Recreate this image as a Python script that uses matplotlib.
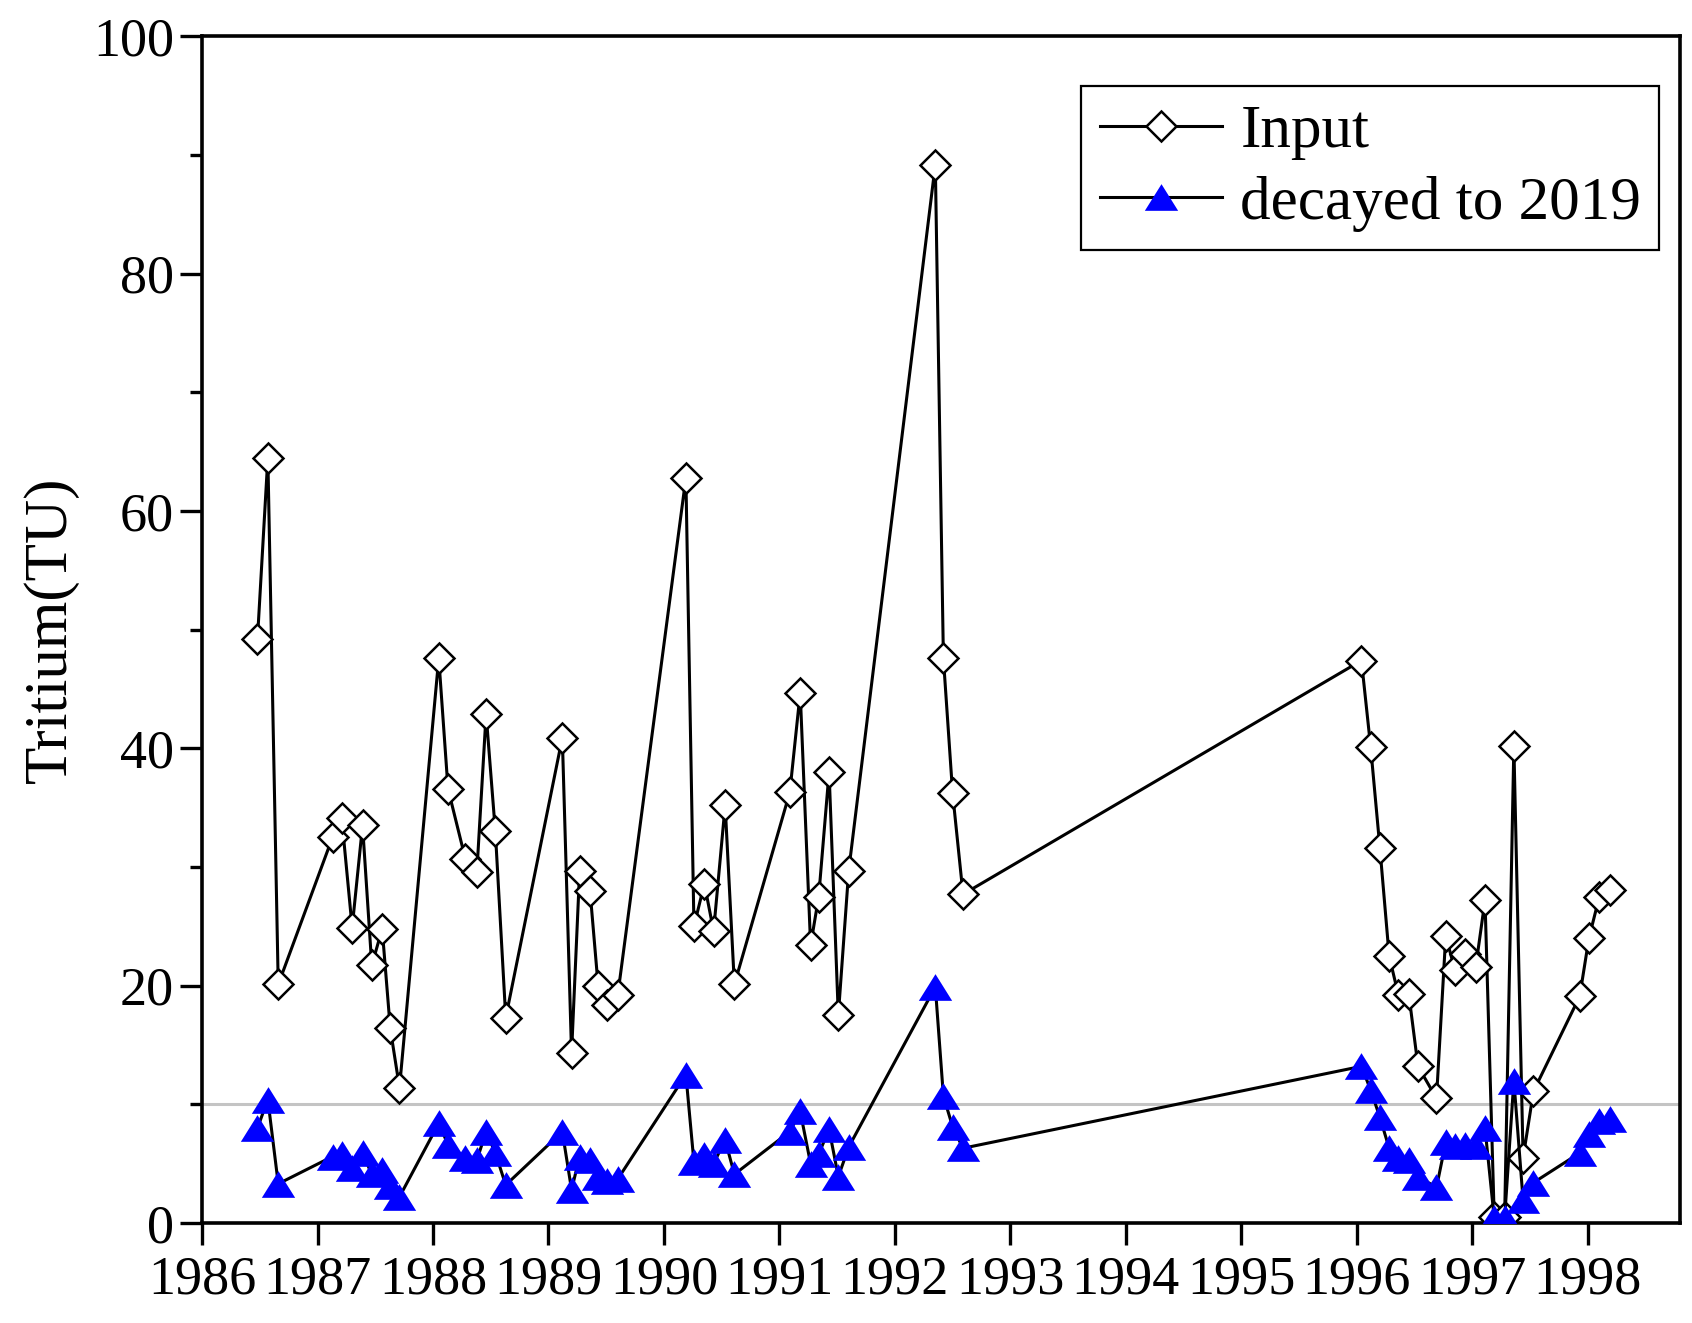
import matplotlib
matplotlib.use("Agg")
import matplotlib.pyplot as plt
from matplotlib.ticker import MultipleLocator

plt.rcParams['font.family'] = ['Liberation Serif', 'DejaVu Serif']

# sample dates (decimal years)
years = [1986.48, 1986.57, 1986.66,
         1987.13, 1987.21, 1987.30, 1987.39, 1987.47, 1987.56, 1987.63, 1987.71,
         1988.05, 1988.13, 1988.28, 1988.38, 1988.46, 1988.54, 1988.63,
         1989.12, 1989.20, 1989.27, 1989.36, 1989.43, 1989.51, 1989.60,
         1990.19, 1990.26, 1990.35, 1990.43, 1990.53, 1990.61,
         1991.09, 1991.18, 1991.27, 1991.34, 1991.43, 1991.51, 1991.60,
         1992.35, 1992.42, 1992.50, 1992.59,
         1996.04, 1996.12, 1996.20, 1996.28, 1996.36, 1996.45, 1996.53, 1996.69,
         1996.77, 1996.85, 1996.94, 1997.03, 1997.11, 1997.19, 1997.28, 1997.36,
         1997.44, 1997.53,
         1997.93, 1998.01, 1998.10, 1998.19]

input_tu = [49.2, 64.5, 20.1,
            32.5, 34.1, 24.9, 33.5, 21.7, 24.8, 16.4, 11.4,
            47.6, 36.6, 30.7, 29.6, 42.9, 33.0, 17.3,
            40.9, 14.3, 29.7, 28.0, 20.0, 18.4, 19.2,
            62.8, 25.0, 28.6, 24.6, 35.2, 20.1,
            36.3, 44.7, 23.4, 27.5, 38.0, 17.5, 29.7,
            89.2, 47.6, 36.2, 27.7,
            47.4, 40.1, 31.6, 22.5, 19.2, 19.3, 13.2, 10.5,
            24.2, 21.3, 22.7, 21.6, 27.2, 0.5, 0.5, 40.2,
            5.5, 11.1,
            19.1, 24.0, 27.5, 28.1]

decayed_tu = [8.0, 10.4, 3.3,
              5.6, 5.8, 4.6, 5.9, 4.1, 4.5, 3.1, 2.2,
              8.4, 6.6, 5.5, 5.3, 7.7, 5.9, 3.2,
              7.7, 2.8, 5.6, 5.3, 3.9, 3.5, 3.7,
              12.5, 5.1, 5.7, 5.0, 7.0, 4.1,
              7.7, 9.4, 5.0, 5.8, 7.9, 3.9, 6.4,
              19.9, 10.7, 8.1, 6.3,
              13.2, 11.2, 8.9, 6.3, 5.5, 5.3, 3.9, 3.0,
              6.8, 6.5, 6.6, 6.5, 8.0, 0.4, 0.4, 12.0,
              1.9, 3.4,
              5.9, 7.5, 8.6, 8.8]

reference_level = 10
year_ticks = list(range(1986, 1999))

fig = plt.figure(figsize=(16.92, 13.23), dpi=100)
ax = fig.add_axes([0.1194, 0.0756, 0.8736, 0.8969])

ax.axhline(reference_level, color='#c4c4c4', lw=2.2, zorder=1)

tri = [(-1, -0.8), (1, -0.8), (0, 0.8)]

ax.plot(years, input_tu, color='black', lw=2.2, marker='D', ms=15.5,
        mfc='white', mec='black', mew=1.8, label='Input', zorder=3)
ax.plot(years, decayed_tu, color='black', lw=2.2, marker=tri, ms=24,
        mfc='#0000ff', mec='#0000ff', mew=0, label='decayed to 2019', zorder=3)

ax.set_xlim(1986, 1998.8)
ax.set_ylim(0, 100)
ax.set_xticks(year_ticks)
ax.yaxis.set_major_locator(MultipleLocator(20))
ax.yaxis.set_minor_locator(MultipleLocator(10))

ax.tick_params(axis='both', which='major', direction='out', length=16, width=2.4,
               labelsize=39, top=False, right=False)
ax.tick_params(axis='y', which='minor', direction='out', length=9, width=2.4)
ax.tick_params(axis='x', which='major', pad=7)
ax.tick_params(axis='y', which='major', pad=4)

for s in ax.spines.values():
    s.set_linewidth(2.6)

ax.set_ylabel('Tritium(TU)', fontsize=44, labelpad=10)

leg = ax.legend(loc='upper right', bbox_to_anchor=(0.986, 0.958), fontsize=44,
                frameon=True, fancybox=False, edgecolor='black', framealpha=1,
                handlelength=2.0, handletextpad=0.3, borderpad=0.3,
                labelspacing=0.25, borderaxespad=0)
leg.get_frame().set_linewidth(1.6)

fig.savefig('out.png', dpi=100)
